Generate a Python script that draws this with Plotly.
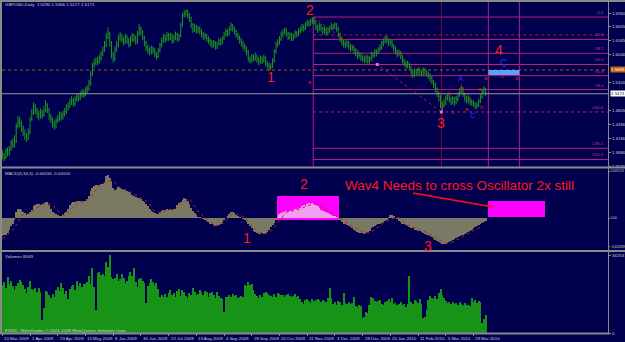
import plotly.graph_objects as go

# ---------------- data ----------------
date_labels = ["10 Mar 2009", "1 Apr 2009", "23 Apr 2009", "15 May 2009", "8 Jun 2009",
               "30 Jun 2009", "22 Jul 2009", "13 Aug 2009", "4 Sep 2009", "28 Sep 2009",
               "20 Oct 2009", "11 Nov 2009", "3 Dec 2009", "28 Dec 2009", "20 Jan 2010",
               "11 Feb 2010", "5 Mar 2010", "29 Mar 2010"]
label_step = 16

first_open = 1.385
closes = [1.380, 1.376, 1.390, 1.385, 1.395, 1.408, 1.404, 1.412, 1.445, 1.456,
          1.452, 1.439, 1.430, 1.422, 1.418, 1.432, 1.461, 1.475, 1.490, 1.480,
          1.472, 1.468, 1.476, 1.470, 1.480, 1.492, 1.482, 1.465, 1.460, 1.450,
          1.446, 1.458, 1.462, 1.470, 1.465, 1.472, 1.478, 1.485, 1.490, 1.498,
          1.502, 1.495, 1.504, 1.510, 1.508, 1.514, 1.520, 1.515, 1.525, 1.528,
          1.539, 1.560, 1.578, 1.585, 1.590, 1.588, 1.595, 1.605, 1.615, 1.625,
          1.642, 1.650, 1.630, 1.603, 1.595, 1.615, 1.625, 1.640, 1.645, 1.638,
          1.632, 1.642, 1.635, 1.628, 1.638, 1.645, 1.640, 1.632, 1.650, 1.662,
          1.653, 1.642, 1.630, 1.620, 1.615, 1.610, 1.618, 1.613, 1.605, 1.600,
          1.612, 1.625, 1.635, 1.642, 1.638, 1.647, 1.640, 1.645, 1.635, 1.642,
          1.648, 1.638, 1.645, 1.670, 1.690, 1.695, 1.700, 1.692, 1.685, 1.670,
          1.660, 1.665, 1.658, 1.662, 1.655, 1.650, 1.643, 1.647, 1.640, 1.635,
          1.630, 1.625, 1.630, 1.622, 1.628, 1.635, 1.630, 1.640, 1.648, 1.655,
          1.650, 1.660, 1.668, 1.662, 1.655, 1.648, 1.642, 1.636, 1.630, 1.623,
          1.618, 1.610, 1.595, 1.592, 1.598, 1.595, 1.600, 1.593, 1.588, 1.595,
          1.590, 1.597, 1.585, 1.580, 1.575, 1.578, 1.590, 1.610, 1.625, 1.630,
          1.638, 1.648, 1.653, 1.658, 1.650, 1.642, 1.648, 1.640, 1.645, 1.652,
          1.648, 1.655, 1.660, 1.665, 1.662, 1.670, 1.675, 1.672, 1.678, 1.682,
          1.676, 1.665, 1.660, 1.668, 1.662, 1.655, 1.660, 1.652, 1.658, 1.663,
          1.668, 1.665, 1.670, 1.662, 1.648, 1.640, 1.632, 1.628, 1.625, 1.630,
          1.622, 1.618, 1.620, 1.615, 1.608, 1.602, 1.605, 1.598, 1.595, 1.592,
          1.598, 1.590, 1.595, 1.605, 1.602, 1.610, 1.608, 1.615, 1.620, 1.628,
          1.632, 1.640, 1.635, 1.630, 1.632, 1.625, 1.618, 1.610, 1.605, 1.608,
          1.600, 1.590, 1.585, 1.580, 1.583, 1.575, 1.565, 1.560, 1.568, 1.564,
          1.570, 1.565, 1.562, 1.570, 1.566, 1.562, 1.558, 1.552, 1.545, 1.538,
          1.528, 1.518, 1.510, 1.495, 1.492, 1.498, 1.508, 1.512, 1.505, 1.500,
          1.506, 1.498, 1.505, 1.515, 1.523, 1.528, 1.515, 1.508, 1.503, 1.506,
          1.500, 1.498, 1.495, 1.490, 1.492, 1.500, 1.510, 1.522, 1.529, 1.5171]
highs = [1.392, 1.386, 1.396, 1.398, 1.402, 1.414, 1.418, 1.425, 1.452, 1.468,
         1.466, 1.458, 1.447, 1.438, 1.430, 1.440, 1.466, 1.484, 1.498, 1.495,
         1.486, 1.480, 1.485, 1.482, 1.490, 1.503, 1.496, 1.486, 1.472, 1.465,
         1.458, 1.464, 1.470, 1.478, 1.476, 1.480, 1.486, 1.494, 1.498, 1.506,
         1.512, 1.508, 1.512, 1.518, 1.516, 1.522, 1.528, 1.526, 1.532, 1.536,
         1.548, 1.568, 1.586, 1.594, 1.598, 1.599, 1.604, 1.612, 1.622, 1.634,
         1.652, 1.664, 1.655, 1.634, 1.610, 1.622, 1.634, 1.648, 1.654, 1.650,
         1.644, 1.650, 1.648, 1.640, 1.645, 1.652, 1.650, 1.646, 1.656, 1.672,
         1.666, 1.658, 1.646, 1.634, 1.626, 1.620, 1.624, 1.622, 1.618, 1.610,
         1.618, 1.630, 1.642, 1.650, 1.648, 1.654, 1.652, 1.652, 1.650, 1.648,
         1.655, 1.652, 1.650, 1.675, 1.696, 1.702, 1.704, 1.703, 1.696, 1.688,
         1.674, 1.672, 1.670, 1.668, 1.666, 1.660, 1.654, 1.652, 1.650, 1.645,
         1.640, 1.636, 1.636, 1.634, 1.633, 1.640, 1.640, 1.645, 1.654, 1.662,
         1.660, 1.666, 1.675, 1.672, 1.666, 1.660, 1.652, 1.646, 1.640, 1.634,
         1.628, 1.622, 1.614, 1.600, 1.605, 1.604, 1.608, 1.604, 1.598, 1.602,
         1.600, 1.604, 1.600, 1.590, 1.586, 1.585, 1.596, 1.616, 1.632, 1.638,
         1.645, 1.655, 1.660, 1.664, 1.662, 1.654, 1.654, 1.652, 1.650, 1.658,
         1.656, 1.662, 1.666, 1.672, 1.670, 1.676, 1.681, 1.680, 1.684, 1.687,
         1.686, 1.680, 1.670, 1.674, 1.672, 1.666, 1.666, 1.664, 1.664, 1.668,
         1.674, 1.672, 1.676, 1.674, 1.666, 1.652, 1.644, 1.638, 1.634, 1.636,
         1.634, 1.628, 1.626, 1.624, 1.618, 1.612, 1.610, 1.608, 1.603, 1.600,
         1.604, 1.602, 1.600, 1.610, 1.610, 1.616, 1.615, 1.620, 1.626, 1.634,
         1.640, 1.646, 1.645, 1.640, 1.638, 1.636, 1.628, 1.622, 1.615, 1.614,
         1.612, 1.604, 1.595, 1.590, 1.590, 1.586, 1.580, 1.570, 1.574, 1.572,
         1.576, 1.575, 1.570, 1.576, 1.574, 1.570, 1.566, 1.562, 1.556, 1.548,
         1.542, 1.532, 1.522, 1.514, 1.500, 1.506, 1.514, 1.518, 1.516, 1.510,
         1.512, 1.510, 1.512, 1.520, 1.530, 1.537, 1.532, 1.520, 1.512, 1.512,
         1.510, 1.505, 1.502, 1.498, 1.498, 1.506, 1.516, 1.528, 1.534, 1.5306]
lows = [1.372, 1.368, 1.372, 1.378, 1.380, 1.390, 1.396, 1.398, 1.408, 1.440,
        1.443, 1.432, 1.423, 1.414, 1.410, 1.415, 1.428, 1.457, 1.470, 1.472,
        1.463, 1.458, 1.462, 1.462, 1.466, 1.476, 1.474, 1.458, 1.452, 1.442,
        1.438, 1.440, 1.452, 1.456, 1.458, 1.460, 1.466, 1.472, 1.480, 1.486,
        1.492, 1.488, 1.490, 1.500, 1.500, 1.503, 1.509, 1.508, 1.511, 1.518,
        1.524, 1.535, 1.556, 1.574, 1.580, 1.580, 1.584, 1.590, 1.600, 1.610,
        1.620, 1.638, 1.622, 1.595, 1.586, 1.590, 1.610, 1.620, 1.634, 1.630,
        1.624, 1.628, 1.628, 1.620, 1.622, 1.632, 1.632, 1.626, 1.628, 1.645,
        1.646, 1.636, 1.622, 1.612, 1.606, 1.602, 1.604, 1.605, 1.598, 1.592,
        1.596, 1.608, 1.620, 1.630, 1.630, 1.634, 1.634, 1.636, 1.628, 1.630,
        1.636, 1.632, 1.634, 1.642, 1.665, 1.686, 1.688, 1.684, 1.676, 1.662,
        1.652, 1.654, 1.650, 1.652, 1.648, 1.642, 1.636, 1.638, 1.632, 1.628,
        1.622, 1.618, 1.620, 1.615, 1.616, 1.624, 1.624, 1.626, 1.636, 1.644,
        1.644, 1.646, 1.656, 1.655, 1.648, 1.642, 1.636, 1.628, 1.622, 1.615,
        1.610, 1.602, 1.588, 1.584, 1.586, 1.588, 1.590, 1.586, 1.580, 1.584,
        1.583, 1.586, 1.578, 1.573, 1.567, 1.570, 1.574, 1.586, 1.606, 1.620,
        1.626, 1.634, 1.642, 1.648, 1.644, 1.636, 1.638, 1.634, 1.634, 1.640,
        1.642, 1.644, 1.650, 1.655, 1.655, 1.658, 1.666, 1.665, 1.668, 1.672,
        1.670, 1.658, 1.652, 1.656, 1.655, 1.648, 1.650, 1.646, 1.648, 1.652,
        1.658, 1.658, 1.660, 1.655, 1.642, 1.632, 1.625, 1.620, 1.618, 1.620,
        1.615, 1.610, 1.612, 1.606, 1.600, 1.594, 1.596, 1.590, 1.588, 1.584,
        1.586, 1.582, 1.584, 1.590, 1.596, 1.598, 1.600, 1.604, 1.610, 1.614,
        1.622, 1.628, 1.628, 1.622, 1.624, 1.618, 1.610, 1.604, 1.598, 1.600,
        1.594, 1.584, 1.578, 1.572, 1.574, 1.568, 1.558, 1.552, 1.555, 1.556,
        1.558, 1.558, 1.555, 1.556, 1.558, 1.555, 1.550, 1.544, 1.538, 1.530,
        1.520, 1.510, 1.500, 1.485, 1.478, 1.486, 1.492, 1.502, 1.498, 1.492,
        1.494, 1.490, 1.494, 1.500, 1.510, 1.518, 1.510, 1.500, 1.496, 1.496,
        1.492, 1.490, 1.488, 1.483, 1.484, 1.488, 1.496, 1.506, 1.518, 1.5127]

macd_hist = [-0.0020, -0.0019, -0.0018, -0.0016, -0.0013, -0.0009, -0.0006, -0.0002, 0.0006, 0.0010,
             0.0010, 0.0009, 0.0007, 0.0005, 0.0003, 0.0004, 0.0007, 0.0009, 0.0013, 0.0014,
             0.0015, 0.0015, 0.0014, 0.0015, 0.0016, 0.0017, 0.0017, 0.0014, 0.0010, 0.0007,
             0.0005, 0.0004, 0.0003, 0.0002, 0.0002, 0.0003, 0.0005, 0.0007, 0.0010, 0.0014,
             0.0016, 0.0017, 0.0017, 0.0018, 0.0018, 0.0019, 0.0018, 0.0019, 0.0019, 0.0021,
             0.0024, 0.0029, 0.0033, 0.0035, 0.0036, 0.0036, 0.0036, 0.0037, 0.0037, 0.0039,
             0.0046, 0.0047, 0.0043, 0.0040, 0.0033, 0.0031, 0.0032, 0.0034, 0.0033, 0.0032,
             0.0031, 0.0030, 0.0029, 0.0028, 0.0027, 0.0025, 0.0024, 0.0023, 0.0022, 0.0022,
             0.0021, 0.0019, 0.0017, 0.0015, 0.0013, 0.0010, 0.0008, 0.0006, 0.0005, 0.0004,
             0.0004, 0.0006, 0.0008, 0.0009, 0.0009, 0.0010, 0.0009, 0.0010, 0.0009, 0.0010,
             0.0010, 0.0014, 0.0016, 0.0017, 0.0020, 0.0022, 0.0021, 0.0019, 0.0015, 0.0011,
             0.0008, 0.0005, 0.0003, 0.0001, 0.0001, 0.0000, -0.0001, -0.0002, -0.0003, -0.0004,
             -0.0006, -0.0007, -0.0008, -0.0009, -0.0009, -0.0008, -0.0007, -0.0004, -0.0002, 0.0000,
             0.0002, 0.0004, 0.0006, 0.0007, 0.0005, 0.0003, 0.0002, 0.0001, 0.0000, -0.0001,
             -0.0002, -0.0004, -0.0006, -0.0009, -0.0011, -0.0014, -0.0015, -0.0016, -0.0017, -0.0017,
             -0.0016, -0.0017, -0.0016, -0.0015, -0.0013, -0.0010, -0.0008, -0.0005, -0.0002, 0.0001,
             0.0004, 0.0005, 0.0006, 0.0007, 0.0008, 0.0007, 0.0008, 0.0009, 0.0009, 0.0010,
             0.0010, 0.0011, 0.0011, 0.0013, 0.0014, 0.0013, 0.0015, 0.0016, 0.0015, 0.0016,
             0.0015, 0.0014, 0.0013, 0.0011, 0.0009, 0.0008, 0.0007, 0.0006, 0.0005, 0.0004,
             0.0003, 0.0002, 0.0002, 0.0001, 0.0000, -0.0002, -0.0004, -0.0006, -0.0007, -0.0008,
             -0.0009, -0.0010, -0.0011, -0.0013, -0.0014, -0.0015, -0.0016, -0.0016, -0.0016, -0.0017,
             -0.0016, -0.0015, -0.0014, -0.0011, -0.0010, -0.0009, -0.0008, -0.0007, -0.0006, -0.0005,
             -0.0004, -0.0003, -0.0002, 0.0001, 0.0003, 0.0003, 0.0002, 0.0000, -0.0001, -0.0003,
             -0.0004, -0.0006, -0.0007, -0.0008, -0.0009, -0.0010, -0.0011, -0.0011, -0.0013, -0.0013,
             -0.0014, -0.0014, -0.0015, -0.0016, -0.0017, -0.0018, -0.0019, -0.0020, -0.0021, -0.0023,
             -0.0024, -0.0025, -0.0026, -0.0027, -0.0028, -0.0028, -0.0028, -0.0027, -0.0026, -0.0025,
             -0.0024, -0.0023, -0.0022, -0.0021, -0.0020, -0.0019, -0.0018, -0.0017, -0.0016, -0.0015,
             -0.0014, -0.0013, -0.0011, -0.0010, -0.0009, -0.0008, -0.0007, -0.0005, -0.0004, -0.0003]

signal_bars = list(range(0, 280, 4))
signal_vals = [-0.0022, -0.0017, -0.0008, 0.0004, 0.0005, 0.0011, 0.0015, 0.0015, 0.0008, 0.0003,
               0.0010, 0.0017, 0.0018, 0.0026, 0.0035, 0.0039, 0.0040, 0.0033, 0.0030, 0.0026,
               0.0022, 0.0017, 0.0008, 0.0006, 0.0009, 0.0010, 0.0016, 0.0020, 0.0010, 0.0002,
               -0.0004, -0.0008, -0.0005, 0.0003, 0.0004, 0.0000, -0.0008, -0.0015, -0.0017, -0.0012,
               -0.0003, 0.0006, 0.0008, 0.0010, 0.0013, 0.0015, 0.0013, 0.0008, 0.0003, -0.0001,
               -0.0007, -0.0011, -0.0015, -0.0016, -0.0011, -0.0006, -0.0002, 0.0001, -0.0005, -0.0009,
               -0.0012, -0.0015, -0.0019, -0.0024, -0.0027, -0.0026, -0.0022, -0.0018, -0.0014, -0.0010]

volumes = [21000, 22500, 19800, 24500, 21500, 23000, 20500, 19000, 20500, 22000,
           23400, 22500, 21000, 19200, 17500, 20000, 22800, 19500, 18800, 19600,
           18200, 19900, 17800, 5700, 11000, 18500, 18000, 16500, 15500, 17200,
           16000, 19000, 20000, 18500, 22000, 19600, 17000, 18300, 15000, 19500,
           20800, 21200, 18900, 22900, 20700, 21900, 20100, 21600, 21700, 22500,
           24900, 21500, 28700, 20400, 10000, 26500, 27000, 25300, 26000, 25100,
           31000, 29000, 34253, 24800, 23500, 24000, 25800, 22900, 23800, 25700,
           24200, 22000, 23000, 25200, 26600, 24900, 28500, 22500, 20000, 23800,
           24100, 22800, 22000, 13200, 20500, 21800, 23600, 22300, 21000, 22000,
           19200, 16000, 16600, 15800, 17000, 16000, 17600, 18900, 16900, 17500,
           15800, 18500, 19400, 16200, 19000, 17800, 16400, 15400, 17600, 16500,
           19700, 18200, 16900, 17200, 18800, 17900, 16800, 18300, 18000, 15600,
           17400, 18100, 16600, 15500, 17800, 16300, 15200, 14900, 9200, 15800,
           16000, 16500, 15900, 17000, 16200, 16800, 15500, 16000, 16300, 15700,
           21300, 20800, 22300, 20900, 21500, 19000, 17000, 16200, 15500, 16800,
           16000, 17500, 18200, 17700, 16900, 16300, 15800, 17200, 16000, 17600,
           17100, 16500, 16900, 15900, 16800, 17300, 16400, 15700, 16100, 17000,
           15900, 16200, 14800, 13600, 12800, 14500, 15000, 14200, 13300, 15100,
           14000, 14700, 15000, 14400, 13800, 14600, 14200, 13700, 15200, 19700,
           15500, 12900, 13800, 12400, 14000, 13400, 12100, 17500, 13100, 12800,
           13500, 12600, 13000, 15600, 12000, 11500, 12300, 11700, 6600, 7200,
           9300, 8900, 12500, 15600, 15200, 14100, 13500, 13900, 14300, 12600,
           12200, 13800, 14000, 14800, 13400, 15300, 12900, 13000, 12100, 12600,
           13500, 12400, 12800, 11600, 12900, 25000, 13600, 12900, 14500, 14100,
           13000, 14900, 12600, 6500, 7200, 9900, 14500, 16300, 15500, 14800,
           16100, 15000, 17400, 19300, 16700, 15400, 14200, 13100, 13700, 12700,
           13400, 12900, 13200, 12500, 13500, 12900, 12400, 13000, 12200, 12300,
           11900, 15500, 13800, 14300, 13200, 13900, 13400, 4400, 6100, 8049]

price_tick_vals = [1.6960, 1.6655, 1.6345, 1.6040, 1.5420, 1.4805, 1.4490, 1.4180, 1.3880, 1.3570]
price_tick_text = ["1.6960", "1.6655", "1.6345", "1.6040", "1.5420", "1.4805", "1.4490", "1.4180", "1.3880", "1.3570"]
bid_price = 1.5171
orange_level = 1.5697
orange_label = "1.5695"

fib_high = 1.6871
fib_low = 1.4767
fib_levels = [0.0, 23.6, 38.2, 50.0, 61.8, 76.4, 100.0, 138.2, 150.0]
fib_start_bar = 179.5
time_lines = [179.5, 253.5, 280.6, 298.5]

macd_max_label = "0.005113"
macd_min_label = "-0.003339"
macd_min_val = -0.003339
macd_max_val = 0.005113
vol_max = 34253

title_text = "GBPUSD,Daily  1.5290 1.5306 1.5127 1.5171"
macd_text = "MACD(5,34,5) -0.00034 -0.00100"
vol_text = "Volumes 8049"
copy_text = "FXDD - MetaTrader, © 2001-2009 MetaQuotes Software Corp."

# ---------------- layout geometry ----------------
W, H = 625, 342
BG = "#00004e"
GRID = "#8a8a8a"
PX_PER_BAR = 1.732
X0_PX, X1_PX = 2, 608


def fx(x):
    return x / W


def fy(y):
    return 1 - y / H


n = len(closes)
idx = list(range(n))
opens = [first_open] + closes[:-1]
x_start = -0.2
x_end = x_start + (X1_PX - X0_PX) / PX_PER_BAR

# price axis range from pixel calibration (1.6960 @ y13, 1.3570 @ y166)
p_per_px = (1.6960 - 1.3570) / (166 - 13)
price_top = 1.6960 + (13 - 2) * p_per_px
price_bot = 1.6960 - (167 - 13) * p_per_px

# macd axis
m_per_px = macd_max_val / (218 - 171)
macd_top = (218 - 169) * m_per_px
macd_bot = -(250 - 218) * m_per_px

SMALL_FAMILY = "Liberation Sans, Arial, sans-serif"
SMALL_SIZE = 4.4
SMALL_COLOR = "#d0d0d0"

fig = go.Figure()

hist_colors = ["#f0a0f0" if 159 <= i <= 194 else "#7a7a64" for i in idx]

fig.add_trace(go.Ohlc(x=idx, open=opens, high=highs, low=lows, close=closes,
                      increasing=dict(line=dict(color="#1c981c", width=1)),
                      decreasing=dict(line=dict(color="#1c981c", width=1)),
                      tickwidth=0.35, xaxis="x", yaxis="y", hoverinfo="skip"))

fig.add_trace(go.Bar(x=idx, y=macd_hist, marker=dict(color=hist_colors, line=dict(width=0)),
                     width=0.55, xaxis="x", yaxis="y2", hoverinfo="skip"))
fig.add_trace(go.Scatter(x=signal_bars, y=signal_vals, mode="lines",
                         line=dict(color="#c02020", width=1, dash="dot", shape="spline"),
                         xaxis="x", yaxis="y2", hoverinfo="skip"))

fig.add_trace(go.Bar(x=idx, y=volumes, marker=dict(color="#179417", line=dict(width=0)),
                     width=0.62, xaxis="x", yaxis="y3", hoverinfo="skip"))

# wave trend line (dotted) and pivot dots
fib_mid = (fib_high + fib_low) / 2
fig.add_trace(go.Scatter(x=[fib_start_bar, time_lines[1]], y=[fib_high, fib_low], mode="lines",
                         line=dict(color="#a02040", width=1, dash="dot"),
                         xaxis="x", yaxis="y", hoverinfo="skip"))
fig.add_trace(go.Scatter(x=[(fib_start_bar + time_lines[1]) / 2, time_lines[1]],
                         y=[fib_mid, fib_low], mode="markers",
                         marker=dict(color="#ff60c0", size=3, symbol="square"),
                         xaxis="x", yaxis="y", hoverinfo="skip"))

fnt = "Liberation Sans, Arial, sans-serif"

shapes = []
# fib horizontal lines
for lv in fib_levels:
    p = fib_high - lv / 100 * (fib_high - fib_low)
    dotted = lv in (100.0,)
    shapes.append(dict(type="line", xref="x", yref="y", x0=fib_start_bar, x1=x_end,
                       y0=p, y1=p, line=dict(color="#b8207a", width=1,
                                             dash="dot" if dotted else "solid"), layer="below"))
# extra dotted level near 23.6
shapes.append(dict(type="line", xref="x", yref="y", x0=fib_start_bar, x1=x_end,
                   y0=1.6473, y1=1.6473, line=dict(color="#9a2040", width=1, dash="dot"), layer="below"))
# vertical time lines
for k, tb in enumerate(time_lines):
    col = "#7a1030" if k == 1 else "#b0207a"
    y1 = fib_high if k == 0 else price_top
    shapes.append(dict(type="line", xref="x", yref="y", x0=tb, x1=tb, y0=price_bot, y1=y1,
                       line=dict(color=col, width=1), layer="below"))
# orange dotted level and bid line
shapes.append(dict(type="line", xref="paper", yref="y", x0=fx(X0_PX), x1=fx(X1_PX),
                   y0=orange_level, y1=orange_level, line=dict(color="#a06010", width=1, dash="dot")))
shapes.append(dict(type="line", xref="paper", yref="y", x0=fx(X0_PX), x1=fx(X1_PX),
                   y0=bid_price, y1=bid_price, line=dict(color="#9a9a9a", width=1)))
# blue target box
shapes.append(dict(type="rect", xref="x", yref="y", x0=time_lines[2], x1=time_lines[3],
                   y0=1.5586, y1=1.5697, fillcolor="#5aa0ff", line=dict(width=0)))
# magenta boxes in MACD window
shapes.append(dict(type="rect", xref="paper", yref="paper", x0=fx(277), x1=fx(339),
                   y0=fy(220), y1=fy(196), fillcolor="#ff00ff", line=dict(width=0), layer="below"))
shapes.append(dict(type="rect", xref="paper", yref="paper", x0=fx(488), x1=fx(545),
                   y0=fy(217), y1=fy(201), fillcolor="#ff00ff", line=dict(width=0)))
# arrow line
shapes.append(dict(type="line", xref="paper", yref="paper", x0=fx(413), y0=fy(193),
                   x1=fx(493), y1=fy(207), line=dict(color="#ff1010", width=1.5)))


def hline(y, x0=0, x1=W, w=2):
    shapes.append(dict(type="line", xref="paper", yref="paper", x0=fx(x0), x1=fx(x1),
                       y0=fy(y), y1=fy(y), line=dict(color=GRID, width=w)))


def vline(x, y0=0, y1=H, w=1):
    shapes.append(dict(type="line", xref="paper", yref="paper", x0=fx(x), x1=fx(x),
                       y0=fy(y0), y1=fy(y1), line=dict(color=GRID, width=w)))


hline(1)
hline(167.5)
hline(251)
hline(333.5, 0, 609.5)
vline(1, 0, 334, 2)
vline(608.5, 0, 334, 1)

ann = []


def text(t, x, y, size, color, xa="center", ya="middle", family=fnt, bg=None):
    d = dict(text=t, x=fx(x), y=fy(y), xref="paper", yref="paper", showarrow=False,
             font=dict(family=family, size=size, color=color), xanchor=xa, yanchor=ya)
    if bg:
        d["bgcolor"] = bg
        d["borderpad"] = 0
    ann.append(d)


# panel captions
text(title_text, 3, 5, SMALL_SIZE, SMALL_COLOR, "left", family=SMALL_FAMILY)
text(macd_text, 3, 173, SMALL_SIZE, SMALL_COLOR, "left", family=SMALL_FAMILY)
text(vol_text, 3, 256, SMALL_SIZE, SMALL_COLOR, "left", family=SMALL_FAMILY)
text(copy_text, 3, 330, SMALL_SIZE, SMALL_COLOR, "left", family=SMALL_FAMILY)

# fib labels
for lv in fib_levels:
    p = fib_high - lv / 100 * (fib_high - fib_low)
    ann.append(dict(text=f"{lv:.1f}", x=fx(606), y=p, xref="paper", yref="y", showarrow=False,
                    font=dict(family=SMALL_FAMILY, size=SMALL_SIZE, color="#c030b0"),
                    xanchor="right", yanchor="bottom"))

# price highlight labels
ann.append(dict(text=orange_label, x=fx(610), y=orange_level, xref="paper", yref="y", showarrow=False,
                font=dict(family=SMALL_FAMILY, size=SMALL_SIZE, color="#ffffff"), bgcolor="#c0600c",
                xanchor="left", yanchor="middle", borderpad=0))
ann.append(dict(text=f"{bid_price:.4f}", x=fx(610), y=bid_price, xref="paper", yref="y", showarrow=False,
                font=dict(family=SMALL_FAMILY, size=SMALL_SIZE, color="#000000"), bgcolor="#ffffff",
                xanchor="left", yanchor="middle", borderpad=0))

# wave labels
RED = "#ff1a1a"
text("2", 310, 10, 14, RED)
text("1", 271, 77, 14, RED)
text("3", 441, 123, 14, RED)
text("4", 499, 50, 14, RED)
text("C", 503, 63, 10, "#2a2aff")
text("A", 461, 78, 8, "#2a2aff")
text("C", 473, 115, 8, "#2a2aff")
for t, x, y in [("a", 449, 93), ("b", 453, 112), ("a", 461, 88), ("b", 468, 95), ("a", 467, 109),
                ("b", 482, 107), ("a", 480, 89), ("c", 502, 76), ("a", 486, 78), ("a", 517, 78),
                ("a", 310, 82)]:
    text(t, x, y, 6, "#d02020")

text("2", 304, 184, 14, RED)
text("1", 247, 238, 14, RED)
text("3", 428, 246, 14, RED)
text("Wav4 Needs to cross Oscillator 2x still", 343, 185, 13.5, RED, "left")

# date labels
for k, lab in enumerate(date_labels):
    ann.append(dict(text=lab, x=k * label_step, y=fy(338), xref="x", yref="paper", showarrow=False,
                    font=dict(family=SMALL_FAMILY, size=SMALL_SIZE, color=SMALL_COLOR),
                    xanchor="left", yanchor="middle"))

axis_font = dict(family=SMALL_FAMILY, size=SMALL_SIZE, color=SMALL_COLOR)
macd_font = dict(family=SMALL_FAMILY, size=3.2, color=SMALL_COLOR)
fig.update_layout(
    width=W, height=H, margin=dict(l=0, r=0, t=0, b=0, autoexpand=False),
    paper_bgcolor=BG, plot_bgcolor=BG, showlegend=False, bargap=0,
    xaxis=dict(domain=[fx(X0_PX), fx(X1_PX)], range=[x_start, x_end], anchor="y3",
               automargin=False, showgrid=False, zeroline=False, showline=False,
               tickvals=[k * label_step for k in range(len(date_labels))],
               ticktext=["" for _ in date_labels], ticks="outside", ticklen=2, tickcolor=GRID,
               rangeslider=dict(visible=False)),
    yaxis=dict(domain=[fy(167), fy(2)], range=[price_bot, price_top], anchor="x", side="right",
               automargin=False, showgrid=False, zeroline=False,
               tickvals=price_tick_vals, ticktext=price_tick_text,
               ticks="outside", ticklen=2, tickcolor=GRID, tickfont=axis_font),
    yaxis2=dict(domain=[fy(250), fy(169)], range=[macd_bot, macd_top], anchor="x", side="right",
                automargin=False, showgrid=False, zeroline=False,
                tickvals=[macd_max_val, 0, macd_min_val * 0.93],
                ticktext=[macd_max_label, "0.00", macd_min_label],
                ticks="outside", ticklen=1, tickcolor=GRID, tickfont=macd_font),
    yaxis3=dict(domain=[fy(333), fy(253)], range=[0, vol_max * 80 / 78], anchor="x", side="right",
                automargin=False, showgrid=False, zeroline=False, tickvals=[0, vol_max],
                ticktext=["0", str(vol_max)],
                ticks="outside", ticklen=2, tickcolor=GRID, tickfont=axis_font),
    shapes=shapes, annotations=ann,
)

fig.write_html("out.html")
